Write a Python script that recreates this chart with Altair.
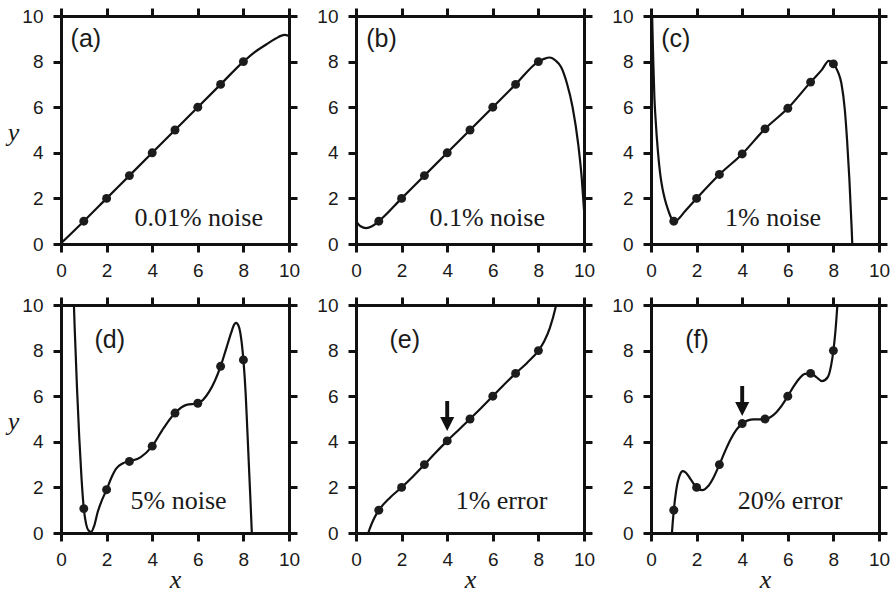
import altair as alt
import pandas as pd

# ---------------- data ----------------
panel_tags = ["(a)", "(b)", "(c)", "(d)", "(e)", "(f)"]
notes = ["0.01% noise", "0.1% noise", "1% noise", "5% noise", "1% error", "20% error"]
tick_values = [0, 2, 4, 6, 8, 10]

pt_x = [1, 2, 3, 4, 5, 6, 7, 8]
pt_a = [1.0, 2.0, 3.0, 4.0, 5.0, 6.0, 7.0, 8.0]
pt_b = [1.0, 2.0, 3.0, 4.0, 5.0, 6.0, 7.0, 8.0]
pt_c = [1.0, 2.0, 3.05, 3.95, 5.05, 5.95, 7.1, 7.9]
pt_d = [1.07, 1.9, 3.14, 3.81, 5.26, 5.69, 7.31, 7.59]
pt_e = [1.0, 2.0, 3.0, 4.04, 5.0, 6.0, 7.0, 8.0]
pt_f = [1.0, 2.0, 3.0, 4.8, 5.0, 6.0, 7.0, 8.0]

curve_a_x = [0, 1, 2, 3, 4, 5, 6, 7, 8, 8.5, 9, 9.4, 9.8, 10]
curve_a_y = [0.03, 1, 2, 3, 4, 5, 6, 7, 8, 8.42, 8.75, 9.0, 9.17, 9.13]

curve_b_x = [0, 0.2, 0.45, 0.7, 1, 2, 3, 4, 5, 6, 7, 8, 8.25, 8.5, 8.75, 9, 9.25, 9.5, 9.75, 9.9, 10]
curve_b_y = [1.0, 0.78, 0.70, 0.78, 1.0, 2, 3, 4, 5, 6, 7, 8, 8.12, 8.18, 8.05, 7.75, 7.05, 6.0, 4.35, 2.9, 1.5]

curve_c_x = [0, 0.05, 0.1, 0.15, 0.2, 0.3, 0.4, 0.5, 0.6, 0.75, 0.9, 1.0, 1.15, 1.5, 2, 3, 4, 5, 6, 7,
             7.5, 7.8, 8, 8.2, 8.35, 8.5, 8.6, 8.7, 8.8, 8.9]
curve_c_y = [12, 10.0, 8.0, 6.4, 5.5, 4.1, 3.1, 2.45, 2.0, 1.5, 1.12, 0.97, 1.05, 1.45, 2.0, 3.05, 3.95, 5.05, 5.95, 7.1,
             7.65, 8.03, 7.9, 7.55, 7.05, 5.9, 4.55, 2.85, 0.7, -1.8]

curve_d_x = [0.5, 0.6, 0.7, 0.8, 0.9, 1.0, 1.1, 1.2, 1.32, 1.45, 1.61, 1.8, 2, 2.2, 2.42, 2.7, 3, 3.5, 4, 4.5,
             5, 5.5, 6, 6.5, 7, 7.25, 7.47, 7.6, 7.68, 7.8, 7.9, 8, 8.1, 8.17, 8.3, 8.37, 8.45]
curve_d_y = [12, 9.0, 6.4, 4.2, 2.4, 1.07, 0.4, 0.12, 0.05, 0.3, 0.92, 1.45, 1.9, 2.4, 2.82, 3.05, 3.14, 3.33, 3.81, 4.6,
             5.26, 5.62, 5.69, 6.2, 7.31, 8.1, 8.8, 9.15, 9.22, 9.05, 8.55, 7.59, 6.1, 4.57, 1.65, 0, -2.0]

curve_e_x = [0.5, 0.6, 0.75, 0.9, 1, 1.5, 2, 2.5, 3, 3.5, 4, 4.5, 5, 5.5, 6, 6.5, 7, 7.5, 8, 8.25, 8.5, 8.75, 8.9]
curve_e_y = [-0.13, 0.18, 0.55, 0.84, 1, 1.56, 2, 2.48, 3, 3.53, 4.04, 4.52, 5, 5.49, 6, 6.51, 7, 7.46, 8, 8.40,
             8.99, 9.88, 10.63]

curve_f_x = [0.9, 0.95, 1.0, 1.1, 1.25, 1.4, 1.5, 1.75, 2.0, 2.25, 2.5, 2.75, 3.0, 3.25, 3.5, 3.75, 4.0, 4.25,
             4.5, 4.75, 5.0, 5.25, 5.5, 5.75, 6.0, 6.25, 6.5, 6.75, 7.0, 7.25, 7.5, 7.75, 7.9, 8.0, 8.1, 8.2]
curve_f_y = [-0.26, 0.43, 1.0, 1.84, 2.51, 2.71, 2.67, 2.34, 2.0, 1.88, 2.05, 2.45, 3.0, 3.59, 4.12, 4.53, 4.8, 4.94,
             4.98, 4.98, 5.0, 5.09, 5.30, 5.61, 6.0, 6.42, 6.77, 6.98, 7.0, 6.84, 6.66, 6.83, 7.35, 8.0, 8.98, 10.38]

points = [pt_a, pt_b, pt_c, pt_d, pt_e, pt_f]
curves = [(curve_a_x, curve_a_y), (curve_b_x, curve_b_y), (curve_c_x, curve_c_y),
          (curve_d_x, curve_d_y), (curve_e_x, curve_e_y), (curve_f_x, curve_f_y)]

# annotation placement (data coordinates)
tag_pos = [(0.42, 9.0), (0.45, 9.0), (0.45, 9.0), (1.47, 8.45), (1.47, 8.45), (1.5, 8.45)]
note_pos = [(3.22, 0.8), (3.22, 0.8), (3.25, 0.8), (3.05, 1.05), (4.37, 1.05), (3.8, 1.05)]
arrow_at = {4: (4, 5.13), 5: (4, 5.79)}

ARROW = "M-0.13,-1L0.13,-1L0.13,0.07L0.47,0.07L0,1L-0.47,0.07L-0.13,0.07Z"
SANS = "Liberation Sans"
NARROW = "Liberation Sans Narrow, Liberation Sans, Arial Narrow, sans-serif"
SERIF = "Liberation Serif"
W = 228
H = 228


def panel(i):
    cx, cy = curves[i]
    line_df = pd.DataFrame({"x": cx, "y": cy})
    pts_df = pd.DataFrame({"x": pt_x, "y": points[i]})
    xs = alt.Scale(domain=[0, 10], nice=False, zero=False)
    ys = alt.Scale(domain=[0, 10], nice=False, zero=False)
    row, col = divmod(i, 3)

    xa = dict(orient="bottom", values=tick_values, labelFlush=False, labelOverlap=False,
              labelPadding=9, format="d", grid=False)
    if row == 1:
        xa.update(titleX=W / 2, titleY=54, titleAlign="center", titleBaseline="alphabetic",
                  titleFont=SERIF, titleFontStyle="italic", titleFontWeight="normal", titleFontSize=26)
    ya = dict(orient="left", values=tick_values, labelFlush=False, labelOverlap=False,
              labelPadding=10, format="d", grid=False)
    if col == 0:
        ya.update(titleAngle=0, titleX=-48, titleY=124, titleAlign="center",
                  titleBaseline="alphabetic",
                  titleFont=SERIF, titleFontStyle="italic", titleFontWeight="normal", titleFontSize=26)

    line = alt.Chart(line_df).mark_line(color="#111111", strokeWidth=2.2, clip=True,
                                        interpolate="monotone").encode(
        x=alt.X("x:Q", scale=xs, axis=alt.Axis(**xa), title="x" if row == 1 else None),
        y=alt.Y("y:Q", scale=ys, axis=alt.Axis(**ya), title="y" if col == 0 else None),
        order=alt.Order("x:Q"),
    )
    dots = alt.Chart(pts_df).mark_circle(size=80, color="#1c1c1c", opacity=1).encode(
        x=alt.X("x:Q", scale=xs, title=None,
                axis=alt.Axis(orient="top", values=tick_values, labels=False, grid=False)),
        y=alt.Y("y:Q", scale=ys, title=None,
                axis=alt.Axis(orient="right", values=tick_values, labels=False, grid=False)),
    )
    tag_df = pd.DataFrame({"x": [tag_pos[i][0]], "y": [tag_pos[i][1]], "t": [panel_tags[i]]})
    tag = alt.Chart(tag_df).mark_text(font=SANS, fontSize=25, align="left", baseline="middle",
                                      color="#1a1a1a").encode(
        x=alt.X("x:Q", scale=xs, axis=None), y=alt.Y("y:Q", scale=ys, axis=None), text="t:N")
    note_df = pd.DataFrame({"x": [note_pos[i][0]], "y": [note_pos[i][1]], "t": [notes[i]]})
    note = alt.Chart(note_df).mark_text(font=SERIF, fontSize=26, align="left", baseline="alphabetic",
                                        color="#1a1a1a").encode(
        x=alt.X("x:Q", scale=xs, axis=None), y=alt.Y("y:Q", scale=ys, axis=None), text="t:N")
    layers = [line, dots, tag, note]
    if i in arrow_at:
        ax, ay = arrow_at[i]
        adf = pd.DataFrame({"x": [ax], "y": [ay]})
        arrow = alt.Chart(adf).mark_point(shape=ARROW, size=900, filled=True, color="#111111",
                                          opacity=1, strokeWidth=0).encode(
            x=alt.X("x:Q", scale=xs, axis=None), y=alt.Y("y:Q", scale=ys, axis=None))
        layers.append(arrow)
    return alt.layer(*layers).resolve_axis(x="independent", y="independent").properties(width=W, height=H)


chart = alt.concat(*[panel(i) for i in range(6)], columns=3,
                   spacing={"row": 61, "column": 67}, bounds="flush").properties(
    padding={"left": 7, "top": 6, "right": 5, "bottom": 5},
    background="white",
).configure_view(stroke=None).configure_axis(
    grid=False,
    domainColor="#111111", domainWidth=3,
    tickColor="#111111", tickWidth=3, tickSize=8,
    labelFont=NARROW, labelFontSize=19, labelColor="#1a1a1a",
    titleFont=SERIF, titleFontSize=26, titleFontStyle="italic", titleFontWeight="normal",
    titleColor="#1a1a1a",
)

chart.save("out.html", embed_options={"renderer": "svg", "actions": False})
